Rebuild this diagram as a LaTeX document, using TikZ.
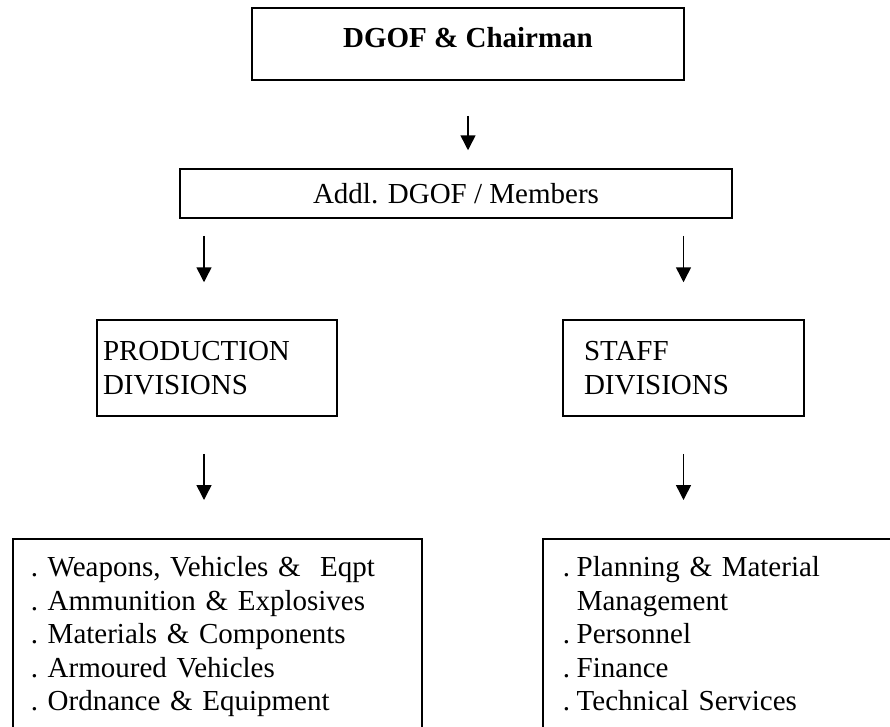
\documentclass[tikz,border=0pt]{standalone}
\usepackage{fontspec}
\setmainfont{Liberation Serif}
\usetikzlibrary{arrows.meta}
\newcommand{\bul}[1][14pt]{\makebox[#1][l]{.}}

\begin{document}
\begin{tikzpicture}[x=1pt, y=-1pt,
    every node/.style={font=\fontsize{29}{33.5}\selectfont},
    box/.style={draw, line width=1.5pt, rectangle},
    arr/.style={line width=1.5pt, -{Triangle[width=15pt,length=15pt]}}]
    \useasboundingbox (0,0) rectangle (890,726);
    \clip (0,0) rectangle (890,726);

    % --- Top levels ---
    \node[box, minimum width=432, minimum height=72, text depth=14pt] (dgof) at (468,44) {\bfseries DGOF \& Chairman};
    \node[box, minimum width=552, minimum height=49] (addl) at (456,193.5) {Addl. DGOF / Members};

    % --- Divisions ---
    \node[box, minimum width=240, minimum height=96, inner xsep=6pt, text width=228pt, align=left] (prod) at (217,368) {PRODUCTION\\DIVISIONS};
    \node[box, minimum width=241, minimum height=96, inner xsep=21pt, text width=199pt, align=left] (staff) at (683.5,368) {STAFF\\DIVISIONS};

    % --- Lists (run off the page) ---
    \node[box, anchor=north west, inner xsep=18pt, inner ysep=18pt, text width=373pt, align=left, text height=20pt, text depth=150pt] (prodlist) at (12,538)
        {\bul[17pt]Weapons, Vehicles \&~\ Eqpt\\
         \bul[17pt]Ammunition \& Explosives\\
         \bul[17pt]Materials \& Components\\
         \bul[17pt]Armoured Vehicles\\
         \bul[17pt]Ordnance \& Equipment};
    \node[box, anchor=north west, inner xsep=20pt, inner ysep=18pt, text width=360pt, align=left, text height=20pt, text depth=150pt] (stafflist) at (542,538)
        {\bul Planning \& Material\\
         \hspace*{14pt}Management\\
         \bul Personnel\\
         \bul Finance\\
         \bul Technical Services};

    % --- Arrows ---
    \coordinate (lx) at ([xshift=-13pt]prod.north);
    \coordinate (ly) at ([xshift=-13pt]prod.south);
    \draw[arr, shorten <=35pt, shorten >=18pt] (dgof.south) -- (dgof.south |- addl.north);
    \draw[arr, shorten <=17pt, shorten >=37pt] (addl.south -| lx) -- (lx);
    \draw[arr, shorten <=17pt, shorten >=37pt] (addl.south -| staff.north) -- (staff.north);
    \draw[arr, shorten <=37pt, shorten >=38pt] (ly) -- (ly |- prodlist.north);
    \draw[arr, shorten <=37pt, shorten >=38pt] (staff.south) -- (staff.south |- stafflist.north);
\end{tikzpicture}
\end{document}
